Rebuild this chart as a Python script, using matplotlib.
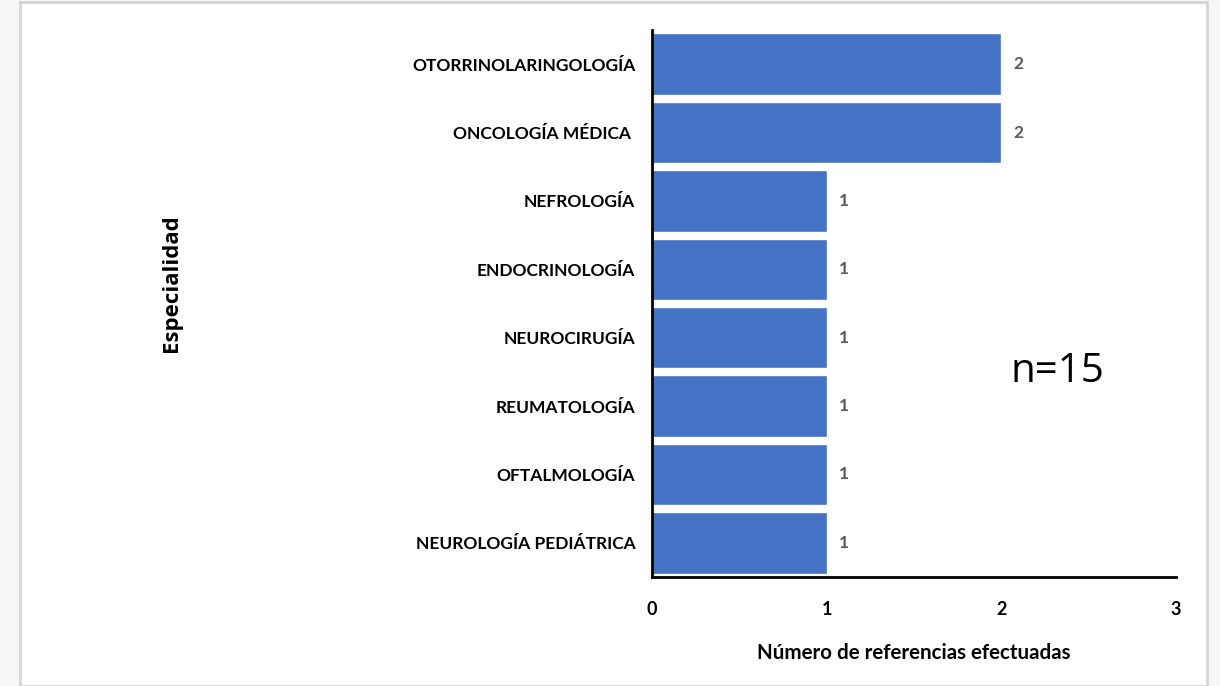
import matplotlib
matplotlib.use("Agg")
import matplotlib.pyplot as plt
from matplotlib.patches import Rectangle

# data (top to bottom)
especialidades = ["OTORRINOLARINGOLOGÍA", "ONCOLOGÍA MÉDICA ", "NEFROLOGÍA",
                  "ENDOCRINOLOGÍA", "NEUROCIRUGÍA", "REUMATOLOGÍA",
                  "OFTALMOLOGÍA", "NEUROLOGÍA PEDIÁTRICA"]
referencias = [2, 2, 1, 1, 1, 1, 1, 1]
x_ticks = [0, 1, 2, 3]
total_n = 15

narrow = ["Lato", "DejaVu Sans"]

fig = plt.figure(figsize=(12.2, 6.86), dpi=100)
fig.patch.set_facecolor("#f6f6f6")
# white page with a light grey frame, behind everything
fig.patches.append(Rectangle((20/1220, 0), (1207-20)/1220, 1 - 1.5/686,
                             transform=fig.transFigure, facecolor="white",
                             edgecolor="#d4d4d4", linewidth=2, zorder=-10))

ax = fig.add_axes([652/1220, 1 - 577/686, (1176-652)/1220, (577-30)/686])
ax.set_facecolor("none")

pos = list(range(len(especialidades)))[::-1]
bars = ax.barh(pos, referencias, height=0.9, color="#4472C4",
               edgecolor="white", linewidth=1)

for b, v in zip(bars, referencias):
    ax.text(b.get_width() + 0.07, b.get_y() + b.get_height()/2, str(v),
            va="center", ha="left", fontsize=12.5, fontweight="bold",
            color="#595959", family=narrow)

ax.set_xlim(0, 3)
ax.set_ylim(-0.5, 7.5)
ax.set_xticks(x_ticks)
ax.set_xticklabels([str(t) for t in x_ticks], fontsize=13, fontweight="bold",
                   family=narrow)
ax.set_yticks(pos)
ax.set_yticklabels(especialidades, fontsize=12.5, fontweight="bold", family=narrow)
ax.tick_params(axis="both", length=0)
ax.tick_params(axis="y", pad=12)
ax.tick_params(axis="x", pad=17)

for s in ["top", "right"]:
    ax.spines[s].set_visible(False)
ax.spines["left"].set_linewidth(2)
ax.spines["bottom"].set_linewidth(2)

ax.set_xlabel("Número de referencias efectuadas", fontsize=14.8,
              fontweight="bold", family=narrow, labelpad=18)

fig.text(172/1220, 1 - 283/686, "Especialidad", rotation=90, ha="center",
         va="center", fontsize=16, fontweight="bold", family="Open Sans")

fig.text(1010/1220, 1 - 372/686, "n=" + str(total_n), ha="left", va="center",
         fontsize=29, family="Open Sans")

fig.savefig("out.png", dpi=100)
